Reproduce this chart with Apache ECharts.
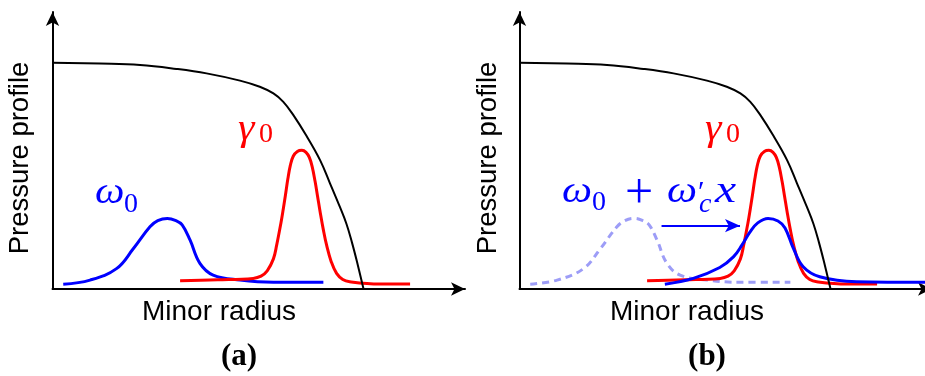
<!DOCTYPE html>
<html><head><meta charset="utf-8">
<script src="https://cdn.jsdelivr.net/npm/echarts@6/dist/echarts.min.js"></script>
<style>html,body{margin:0;padding:0;background:#fff}#c{width:925px;height:376px}</style>
</head><body><div id="c"></div>
<script>
// Pressure profile (black), normalised units
const pressureX = [0, 11.5, 21.2, 30, 37.3, 45.4, 50.2, 53.5, 55.9, 58.3, 61.5, 64.8, 67.2, 69.6, 71.2, 72.5, 73.7, 75.3];
const pressureY = [81.1, 80.8, 80.3, 78.9, 77.3, 74.7, 72.5, 70.1, 67.1, 62.4, 54.9, 46.2, 37.9, 29.4, 23.3, 16.8, 10.0, 0.2];
// omega_0 (blue in a, dashed in b)
const omegaX = [2.6, 9.1, 15.5, 19.6, 23.6, 25.5, 27.8, 29.9, 31.4, 33.3, 35.7, 38.9, 45.4, 53.5, 65.6];
const omegaY = [1.7, 3.2, 7.3, 14.5, 22.3, 24.5, 25.3, 24.5, 23.0, 17.6, 9.2, 5.0, 3.2, 2.4, 2.4];
// gamma_0 (red)
const gammaX = [30.9, 40, 48.6, 50.5, 52.0, 53.5, 54.3, 55.3, 55.9, 56.4, 57.0, 57.6, 58.3, 59.3, 60.4, 61.4, 62.2, 62.9, 63.6, 64.2, 64.8, 65.6, 66.4, 67.5, 68.8, 70.3, 72.0, 79.3, 86.6];
const gammaY = [3.0, 3.3, 3.8, 4.6, 6.5, 10.8, 15.8, 23.5, 28.8, 33.5, 39.5, 44.3, 47.6, 49.3, 49.7, 49.0, 47.2, 43.8, 38.5, 33.2, 27.8, 21.2, 15.6, 9.8, 5.6, 3.4, 2.6, 1.8, 1.8];
// omega_0 + omega'_c x (blue in b)
const shiftedX = [35.2, 42.1, 48.5, 51.8, 53.9, 55.8, 57.7, 60.2, 62.6, 64.3, 66.3, 68.7, 72.7, 81.6, 99.9];
const shiftedY = [1.7, 3.8, 7.7, 11.5, 15.8, 20.4, 23.7, 25.3, 24.4, 21.9, 14.7, 8.0, 4.4, 2.6, 2.4];
// shift arrow in (b)
const arrowStart = [34.4, 22.7];
const arrowEnd = [53.4, 22.7];
const xMax = 99.9, yMax = 99.3;

const zip = (xs, ys) => xs.map((x, i) => [x, ys[i]]);
const chart = echarts.init(document.getElementById('c'), null, {renderer: 'canvas'});

const axisLine = {show: true, lineStyle: {color: '#000', width: 2}, symbol: ['none', 'arrow'], symbolSize: [10, 14]};
const mkX = (gi) => ({type: 'value', gridIndex: gi, min: 0, max: xMax, axisLine, axisTick: {show: false}, axisLabel: {show: false}, splitLine: {show: false}});
const mkY = (gi) => ({type: 'value', gridIndex: gi, min: 0, max: yMax, axisLine, axisTick: {show: false}, axisLabel: {show: false}, splitLine: {show: false}});
const line = (name, gi, data, color, width, extra) => Object.assign({
  name, type: 'line', xAxisIndex: gi, yAxisIndex: gi, data, showSymbol: false, smooth: 0.4,
  lineStyle: {color, width}, itemStyle: {color}, silent: true, animation: false
}, extra || {});

const mathFont = (s, italic) => (italic ? 'italic ' : '') + s + 'px "Liberation Serif", "DejaVu Serif", serif';
const t = (text, x, y, font, fill, extra, el) => Object.assign({type: 'text', x, y, silent: true,
  style: Object.assign({text, font, fill, align: 'left', verticalAlign: 'middle'}, extra || {})}, el || {});
const sans = (s) => s + 'px "Liberation Sans", Arial, sans-serif';

chart.setOption({
  animation: false,
  backgroundColor: '#fff',
  grid: [
    {left: 52.5, top: 12, width: 412.5, height: 277, outerBoundsMode: 'none'},
    {left: 519.5, top: 12, width: 412.5, height: 277, outerBoundsMode: 'none'}
  ],
  xAxis: [mkX(0), mkX(1)],
  yAxis: [mkY(0), mkY(1)],
  series: [
    line('ω0', 0, zip(omegaX, omegaY), '#0000ff', 3),
    line('γ0', 0, zip(gammaX, gammaY), '#ff0000', 3),
    line('Pressure', 0, zip(pressureX, pressureY), '#000000', 2),
    line('ω0 (before shift)', 1, zip(omegaX, omegaY), '#9d9df7', 3, {lineStyle: {color: '#9d9df7', width: 3, type: [7, 5]}}),
    line('γ0', 1, zip(gammaX, gammaY), '#ff0000', 3),
    line('ω0 + ω′c x', 1, zip(shiftedX, shiftedY), '#0000ff', 3, {
      markLine: {silent: true, symbol: ['none', 'arrow'], symbolSize: [10, 15], animation: false,
        lineStyle: {color: '#0000ff', width: 2, type: 'solid'}, label: {show: false},
        emphasis: {disabled: true},
        data: [[{coord: arrowStart}, {coord: arrowEnd}]]}
    }),
    line('Pressure', 1, zip(pressureX, pressureY), '#000000', 2)
  ],
  graphic: [
    // axis titles
    t('Pressure profile', 20.5, 158, sans(27.5), '#000', {align: 'center'}, {rotation: Math.PI / 2}),
    t('Pressure profile', 488, 158, sans(27.5), '#000', {align: 'center'}, {rotation: Math.PI / 2}),
    t('Minor radius', 219, 312.5, sans(28), '#000', {align: 'center'}),
    t('Minor radius', 687, 312.5, sans(28), '#000', {align: 'center'}),
    t('(a)', 239, 356.5, 'bold ' + mathFont(31), '#000', {align: 'center'}),
    t('(b)', 707, 356.5, 'bold ' + mathFont(31), '#000', {align: 'center'}),
    // panel (a) labels
    t('ω', 95, 193, mathFont(38, true), '#0000ff', null, {scaleX: 1.1}),
    t('0', 124, 205, mathFont(28), '#0000ff'),
    t('γ', 238, 130, mathFont(38, true), '#ff0000', null, {scaleX: 1.1}),
    t('0', 259, 134.5, mathFont(28), '#ff0000'),
    // panel (b) labels
    t('γ', 705, 130, mathFont(38, true), '#ff0000', null, {scaleX: 1.1}),
    t('0', 726, 134.5, mathFont(28), '#ff0000'),
    t('ω', 562, 192, mathFont(38, true), '#0000ff', null, {scaleX: 1.12}),
    t('0', 592, 203, mathFont(28), '#0000ff'),
    t('+', 639, 195, mathFont(50), '#0000ff', {align: 'center'}),
    t('ω', 667, 192, mathFont(38, true), '#0000ff', null, {scaleX: 1.12}),
    t('′', 698, 193, mathFont(30), '#0000ff'),
    t('c', 699, 205, mathFont(28, true), '#0000ff'),
    t('x', 715, 192, mathFont(38, true), '#0000ff', null, {scaleX: 1.25})
  ]
});
</script></body></html>
